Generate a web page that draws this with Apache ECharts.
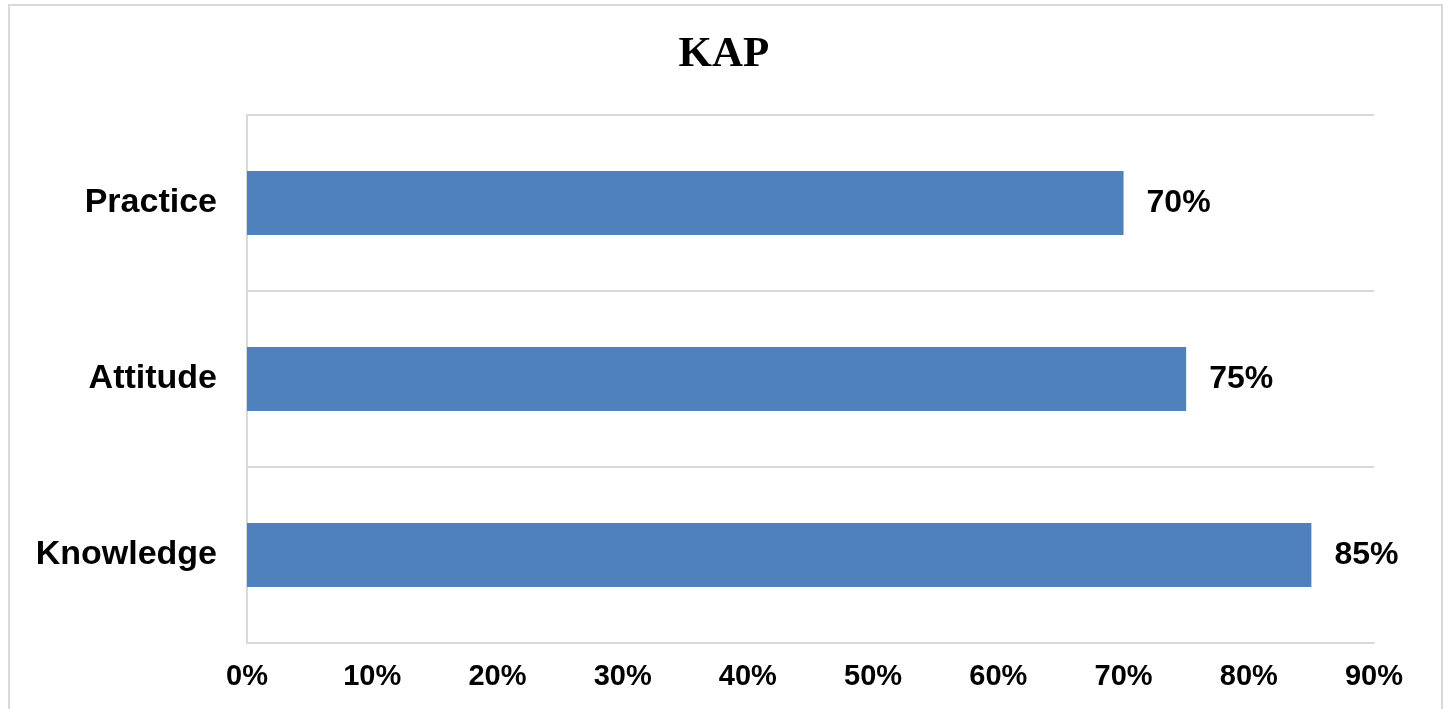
<!DOCTYPE html>
<html>
<head>
<meta charset="utf-8">
<script src="https://cdn.jsdelivr.net/npm/echarts@6/dist/echarts.min.js"></script>
<style>html,body{margin:0;padding:0;background:#fff;}#c{width:1448px;height:709px;}</style>
</head>
<body>
<div id="c"></div>
<script>
const titleText = 'KAP';
const categories = ['Knowledge', 'Attitude', 'Practice'];
const values = [85, 75, 70];
const xTicks = { min: 0, max: 90, interval: 10 };

const chart = echarts.init(document.getElementById('c'), null, { renderer: 'canvas' });
chart.setOption({
  backgroundColor: '#ffffff',
  animation: false,
  title: {
    text: titleText,
    left: 'center',
    top: 28,
    textStyle: { fontFamily: 'Liberation Serif', fontWeight: 'bold', fontSize: 43, color: '#000' }
  },
  graphic: [{
    type: 'rect',
    shape: { x: 9, y: 5, width: 1433, height: 720 },
    style: { fill: 'none', stroke: '#d9d9d9', lineWidth: 2 },
    silent: true
  }],
  grid: { left: 247, right: 74, top: 115, bottom: 66, containLabel: false },
  xAxis: {
    type: 'value',
    min: xTicks.min, max: xTicks.max, interval: xTicks.interval,
    axisLine: { show: true, lineStyle: { color: '#d9d9d9', width: 2 } },
    axisTick: { show: false },
    splitLine: { show: false },
    axisLabel: {
      formatter: '{value}%', margin: 19,
      fontFamily: 'Liberation Sans', fontWeight: 'bold', fontSize: 29, color: '#000'
    }
  },
  yAxis: {
    type: 'category',
    data: categories,
    axisLine: { show: true, lineStyle: { color: '#d9d9d9', width: 2 } },
    axisTick: { show: false },
    splitLine: { show: true, lineStyle: { color: '#d9d9d9', width: 2 } },
    axisLabel: {
      margin: 30,
      fontFamily: 'Liberation Sans', fontWeight: 'bold', fontSize: 34, color: '#000'
    }
  },
  series: [{
    type: 'bar',
    data: values,
    barWidth: 64,
    itemStyle: { color: '#4f81bd' },
    label: {
      show: true, position: 'right', distance: 23,
      formatter: '{c}%',
      fontFamily: 'Liberation Sans', fontWeight: 'bold', fontSize: 32, color: '#000'
    }
  }]
});
</script>
</body>
</html>
